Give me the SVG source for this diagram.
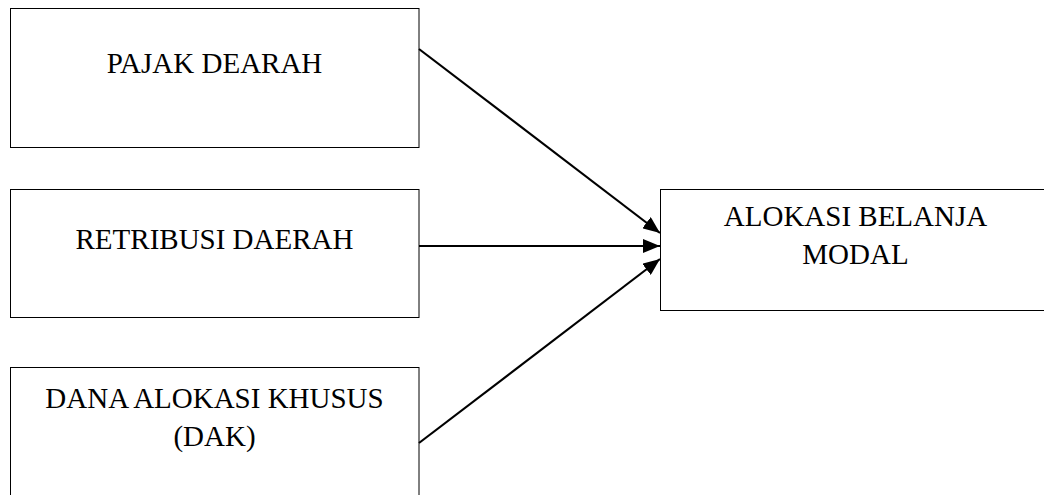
<svg xmlns="http://www.w3.org/2000/svg" width="1044" height="495" viewBox="0 0 1044 495">
<style>
.box{fill:#fff;stroke:#000;stroke-width:1}
.lbl{font-family:"Liberation Serif","Times New Roman",serif;font-size:29px;fill:#000;text-anchor:middle}
.con{stroke:#000;stroke-width:2.2;fill:none}
</style>
<defs>
<marker id="ah" markerWidth="17" markerHeight="14" refX="17" refY="7" orient="auto" markerUnits="userSpaceOnUse">
<path d="M0,0 L17,7 L0,14 Z" fill="#000"/>
</marker>
</defs>
<rect width="1044" height="495" fill="#fff"/>
<g id="pajak">
<rect class="box" x="10.5" y="8.5" width="408.5" height="139"/>
<text class="lbl" x="214.5" y="73">PAJAK DEARAH</text>
</g>
<g id="retribusi">
<rect class="box" x="10.5" y="189.5" width="408.5" height="128"/>
<text class="lbl" x="214.5" y="249">RETRIBUSI DAERAH</text>
</g>
<g id="dak">
<rect class="box" x="10.5" y="367.5" width="408.5" height="140"/>
<text class="lbl" x="214.5" y="408">DANA ALOKASI KHUSUS</text>
<text class="lbl" x="214.5" y="446">(DAK)</text>
</g>
<g id="belanja">
<rect class="box" x="660.5" y="189.5" width="391" height="121"/>
<text class="lbl" x="855.5" y="226">ALOKASI BELANJA</text>
<text class="lbl" x="855.5" y="264">MODAL</text>
</g>
<g id="connectors">
<line class="con" x1="419" y1="49" x2="660" y2="233" marker-end="url(#ah)"/>
<line class="con" x1="419" y1="246" x2="660" y2="246" marker-end="url(#ah)"/>
<line class="con" x1="419" y1="443" x2="660" y2="259" marker-end="url(#ah)"/>
</g>
</svg>
